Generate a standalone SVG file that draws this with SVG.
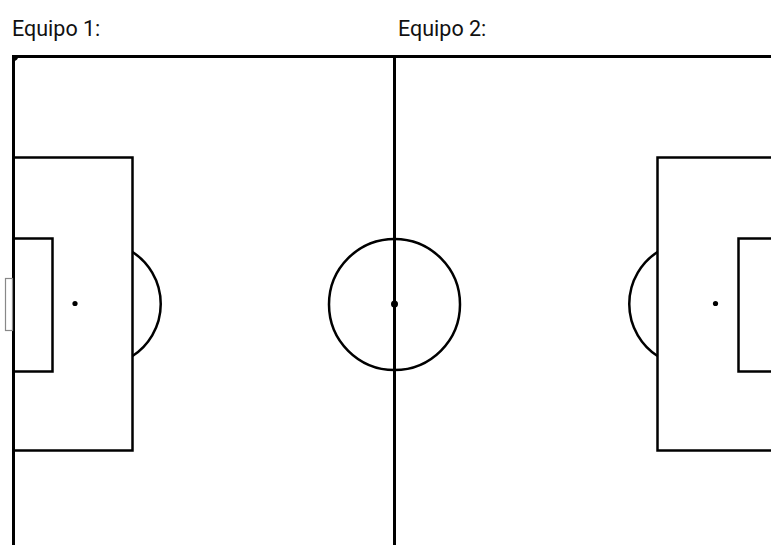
<svg xmlns="http://www.w3.org/2000/svg" width="771" height="545" viewBox="0 0 771 545">
<style>
.lbl{font-family:Roboto,"Liberation Sans",sans-serif;font-size:21.5px;fill:#111}
.b{fill:none;stroke:#000;stroke-width:3}
.l{fill:none;stroke:#000;stroke-width:2.5}
.d{fill:#000}
</style>
<rect width="771" height="545" fill="#fff"/>
<g id="labels">
<text class="lbl" x="12" y="36">Equipo 1:</text>
<text class="lbl" x="398" y="36">Equipo 2:</text>
</g>
<g id="field">
<path class="b" d="M13.5,545 V56.5 H771"/>
<path class="l" d="M13.5,60 A3.5,3.5 0 0 0 17,56.5" stroke-width="1.5"/>
<line class="b" x1="394.5" y1="56" x2="394.5" y2="545"/>
<circle class="l" cx="394.5" cy="304.5" r="65.5"/>
<circle class="d" cx="394.5" cy="304" r="3.5"/>
</g>
<g id="left-area">
<path class="l" d="M13,157.5 H132.5 V450.5 H13"/>
<path class="l" d="M13,238.5 H52.5 V371.5 H13"/>
<circle class="d" cx="75" cy="303.5" r="2.6"/>
<path class="l" d="M132.5,252 A62,62 0 0 1 132.5,356"/>
<rect x="5.5" y="278.5" width="7" height="52" fill="none" stroke="#888" stroke-width="1.2"/>
</g>
<g id="right-area">
<path class="l" d="M771,157.5 H657.5 V450.5 H771"/>
<path class="l" d="M771,238.5 H738.5 V371.5 H771"/>
<circle class="d" cx="715.5" cy="303.5" r="2.6"/>
<path class="l" d="M657.5,252 A62,62 0 0 0 657.5,356"/>
</g>
</svg>
